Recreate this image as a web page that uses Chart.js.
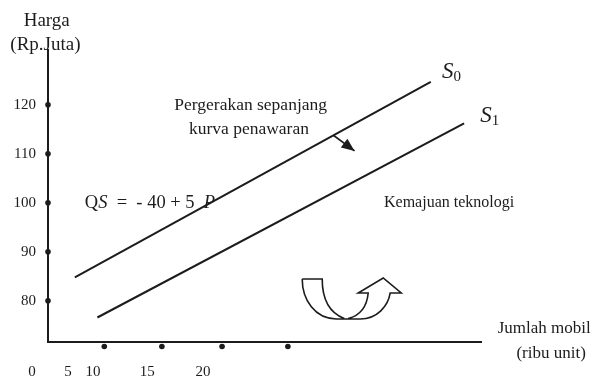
<!DOCTYPE html>
<html lang="id">
<head>
<meta charset="UTF-8">
<title>Kurva Penawaran Mobil</title>
<script src="https://cdn.jsdelivr.net/npm/chart.js"></script>
<style>
  body { margin: 0; background: #fff; }
  canvas { display: block; }
</style>
</head>
<body>
<canvas id="chart" width="606" height="381"></canvas>
<script>
// values (schematic units)
const yTicks = [80, 90, 100, 110, 120];
const xDots = [13, 26.3, 40.2, 55.4];
const xTickLabels = ['0', '5', '10', '15', '20'];
const xTickPos = [-3.7, 4.6, 10.4, 22.9, 35.8];
const curveS0 = [{x: 6.2, y: 84.8}, {x: 88.4, y: 124.7}];
const curveS1 = [{x: 11.4, y: 76.6}, {x: 96.1, y: 116.2}];
const moveArrow = [{x: 65.9, y: 113.8}, {x: 70.8, y: 110.6}];
const shiftIconAt = {x: 69.1, y: 76.5};

const Y_MIN = 71.6, Y_MAX = 131.2;
const FONT = "'Liberation Serif', 'Times New Roman', serif";
const INK = '#1c1c1c';

// text in the plot, placed in data units
const notes = [
  {text: 'Pergerakan sepanjang', x: 46.8, y: 118.9, size: 17.5, align: 'center'},
  {text: 'kurva penawaran', x: 46.4, y: 114.0, size: 17.5, align: 'center'},
  {text: 'Kemajuan teknologi', x: 77.6, y: 99.2, size: 16, align: 'left'},
  {text: 'Harga', x: -0.3, y: 136.0, size: 19, align: 'center'},
  {text: '(Rp.Juta)', x: -0.6, y: 131.3, size: 19, align: 'center'},
  {text: 'Jumlah mobil', x: 114.6, y: 73.4, size: 17, align: 'center'},
  {text: '(ribu unit)', x: 116.2, y: 68.3, size: 17, align: 'center'}
];

const extras = {
  id: 'extras',
  afterDatasetsDraw(chart) {
    const ctx = chart.ctx;
    const sx = chart.scales.x, sy = chart.scales.y;
    const px = v => sx.getPixelForValue(v), py = v => sy.getPixelForValue(v);
    ctx.save();
    ctx.fillStyle = INK;
    ctx.textBaseline = 'alphabetic';

    // dots hanging under the x axis
    xDots.forEach(v => {
      ctx.beginPath();
      ctx.arc(px(v), py(Y_MIN) + 4.5, 2.8, 0, Math.PI * 2);
      ctx.fill();
    });

    notes.forEach(n => {
      ctx.font = n.size + 'px ' + FONT;
      ctx.textAlign = n.align;
      ctx.fillText(n.text, px(n.x), py(n.y));
    });

    // x tick labels
    ctx.font = '15px ' + FONT;
    ctx.textAlign = 'center';
    xTickLabels.forEach((t, i) => ctx.fillText(t, px(xTickPos[i]), py(64.7)));

    // formula with italic parts
    ctx.textAlign = 'left';
    let x = px(8.5);
    const yb = py(98.9);
    [['Q', ''], ['S', 'italic '], ['  =  - 40 + 5  ', ''], ['P', 'italic ']].forEach(([t, st]) => {
      ctx.font = st + '18.5px ' + FONT;
      ctx.fillText(t, x, yb);
      x += ctx.measureText(t).width;
    });

    // curve names S0, S1
    [['0', 91.0, 125.5], ['1', 99.8, 116.5]].forEach(([sub, xv, yv]) => {
      ctx.font = 'italic 23px ' + FONT;
      ctx.fillText('S', px(xv), py(yv));
      const w = ctx.measureText('S').width;
      ctx.font = '15px ' + FONT;
      ctx.fillText(sub, px(xv) + w, py(yv) + 3);
    });

    // arrow head on the movement arrow
    const a = moveArrow[0], b = moveArrow[1];
    const x1 = px(a.x), y1 = py(a.y), x2 = px(b.x), y2 = py(b.y);
    const ang = Math.atan2(y2 - y1, x2 - x1);
    const L = 13, W = 5.5;
    ctx.beginPath();
    ctx.moveTo(x2, y2);
    ctx.lineTo(x2 - L * Math.cos(ang) + W * Math.sin(ang), y2 - L * Math.sin(ang) - W * Math.cos(ang));
    ctx.lineTo(x2 - L * Math.cos(ang) - W * Math.sin(ang), y2 - L * Math.sin(ang) + W * Math.cos(ang));
    ctx.closePath();
    ctx.fill();

    // curved "shift" arrow icon
    const ox = px(shiftIconAt.x), oy = py(shiftIconAt.y);
    ctx.translate(ox, oy);
    ctx.beginPath();
    ctx.moveTo(-45, -39);
    ctx.bezierCurveTo(-45, -18, -32, 1, -11, 1);
    ctx.lineTo(13, 1);
    ctx.bezierCurveTo(30, 1, 41, -12, 43, -25);
    ctx.lineTo(54, -25);
    ctx.lineTo(36, -40);
    ctx.lineTo(11, -25);
    ctx.lineTo(21, -25);
    ctx.quadraticCurveTo(19, -4, 1, 0.5);
    ctx.moveTo(-3, 0.5);
    ctx.quadraticCurveTo(-25, -8, -25, -39);
    ctx.lineTo(-45, -39);
    ctx.strokeStyle = INK;
    ctx.lineWidth = 1.6;
    ctx.stroke();
    ctx.restore();
  }
};

const lineStyle = {showLine: true, borderColor: INK, borderWidth: 2, pointRadius: 0, clip: false};
const dotStyle = {showLine: false, pointRadius: 2.8, backgroundColor: INK, borderWidth: 0, clip: false};

new Chart(document.getElementById('chart'), {
  type: 'scatter',
  data: {
    datasets: [
      Object.assign({label: 'S0', data: curveS0}, lineStyle),
      Object.assign({label: 'S1', data: curveS1}, lineStyle),
      Object.assign({label: 'gerak', data: moveArrow}, lineStyle, {borderWidth: 1.6}),
      Object.assign({label: 'yDots', data: yTicks.map(v => ({x: 0, y: v}))}, dotStyle)
    ]
  },
  options: {
    responsive: false,
    animation: false,
    events: [],
    layout: {padding: {top: 50, right: 125, left: 0, bottom: 0}},
    plugins: {legend: {display: false}, tooltip: {enabled: false}},
    scales: {
      x: {
        type: 'linear', min: 0, max: 100,
        grid: {display: false, drawTicks: false},
        border: {display: true, color: INK, width: 2},
        ticks: {display: false},
        afterFit: s => { s.height = 39; }
      },
      y: {
        type: 'linear', min: Y_MIN, max: Y_MAX,
        grid: {display: false, drawTicks: false},
        border: {display: true, color: INK, width: 2},
        afterBuildTicks: s => { s.ticks = yTicks.map(v => ({value: v})); },
        ticks: {color: INK, padding: 12, font: {family: FONT, size: 15}},
        afterFit: s => { s.width = 48; }
      }
    }
  },
  plugins: [extras]
});
</script>
</body>
</html>
